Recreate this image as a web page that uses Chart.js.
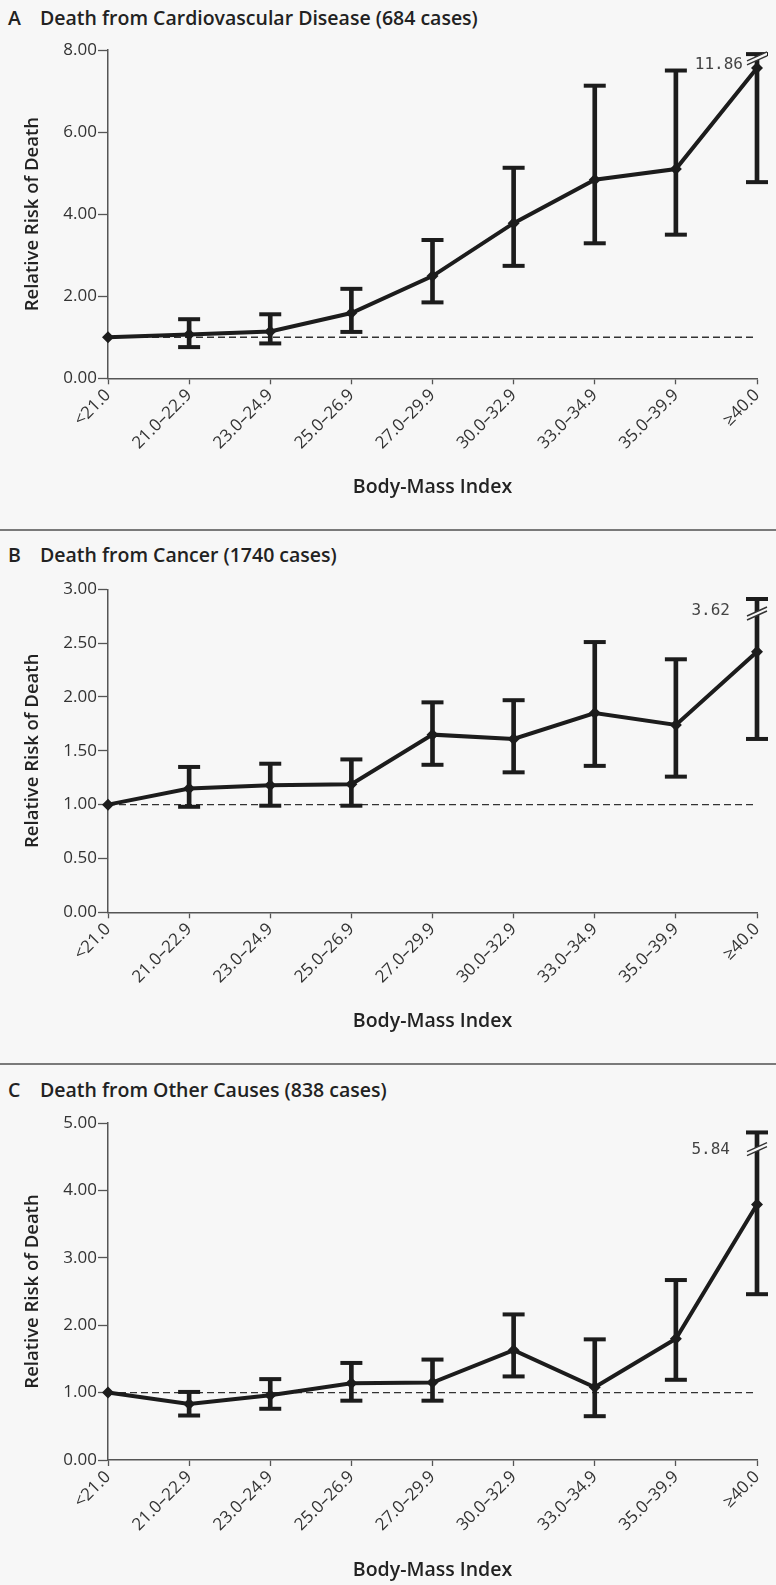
<!DOCTYPE html>
<html>
<head>
<meta charset="utf-8">
<script src="https://cdn.jsdelivr.net/npm/chart.js@4.4.1/dist/chart.umd.min.js"></script>
<style>
  html, body { margin: 0; padding: 0; background: #f7f7f7; }
  body { width: 776px; height: 1585px; position: relative; overflow: hidden; font-family: "Open Sans", sans-serif; }
  .rule { position: absolute; left: 0; width: 776px; height: 2px; background: #7a7a7a; }
  .ptitle { position: absolute; left: 8px; font-weight: 600; font-size: 19.5px; line-height: 22px; color: #222; white-space: nowrap; }
  .ptitle span { display: inline-block; width: 32px; }
  .panel { position: absolute; left: 0; width: 776px; height: 490px; }
</style>
</head>
<body>
<div class="ptitle" style="top:7px"><span>A</span>Death from Cardiovascular Disease (684 cases)</div>
<div class="panel" style="top:30px"><canvas id="chartA" width="776" height="490"></canvas></div>
<div class="rule" style="top:529px"></div>
<div class="ptitle" style="top:544px"><span>B</span>Death from Cancer (1740 cases)</div>
<div class="panel" style="top:565px"><canvas id="chartB" width="776" height="490"></canvas></div>
<div class="rule" style="top:1063px"></div>
<div class="ptitle" style="top:1079px"><span>C</span>Death from Other Causes (838 cases)</div>
<div class="panel" style="top:1095px"><canvas id="chartC" width="776" height="490"></canvas></div>

<script>
'use strict';

// ── Data ──────────────────────────────────────────────────────────────────────
const bmiLabels = ['<21.0', '21.0–22.9', '23.0–24.9', '25.0–26.9', '27.0–29.9',
                   '30.0–32.9', '33.0–34.9', '35.0–39.9', '≥40.0'];
const refLine   = [1, 1, 1, 1, 1, 1, 1, 1, 1];

// A: cardiovascular disease
const cvdRisk  = [1.00, 1.07, 1.14, 1.59, 2.49, 3.78, 4.84, 5.10, 7.56];
const cvdLower = [null, 0.76, 0.85, 1.13, 1.85, 2.74, 3.29, 3.50, 4.78];
const cvdUpper = [null, 1.44, 1.56, 2.18, 3.37, 5.13, 7.13, 7.50, 7.90];
const cvdTicks = [0, 2, 4, 6, 8];

// B: cancer
const cancerRisk  = [1.00, 1.15, 1.18, 1.19, 1.65, 1.61, 1.85, 1.74, 2.42];
const cancerLower = [null, 0.98, 0.99, 0.99, 1.37, 1.30, 1.36, 1.26, 1.61];
const cancerUpper = [null, 1.35, 1.38, 1.42, 1.95, 1.97, 2.51, 2.35, 2.91];
const cancerTicks = [0, 0.5, 1, 1.5, 2, 2.5, 3];

// C: other causes
const otherRisk  = [1.00, 0.83, 0.96, 1.14, 1.15, 1.63, 1.08, 1.80, 3.79];
const otherLower = [null, 0.66, 0.76, 0.88, 0.88, 1.24, 0.65, 1.19, 2.46];
const otherUpper = [null, 1.01, 1.20, 1.44, 1.49, 2.16, 1.79, 2.67, 4.86];
const otherTicks = [0, 1, 2, 3, 4, 5];

// truncated upper limits of the last group (value where the break is drawn, true value)
const breakValues = [7.81, 2.78, 4.62];
const breakLabels = ['11.86', '3.62', '5.84'];

// ── Style ─────────────────────────────────────────────────────────────────────
const INK = '#1c1c1c';
const BG = '#f7f7f7';
const FONT = '"Open Sans"';

// ── Axis break plugin (// marks + real upper limit) ──────────────────────────
const breakPlugin = {
  id: 'axisBreak',
  afterDatasetsDraw(chart, args, opts) {
    if (opts.value == null) return;
    const ctx = chart.ctx;
    const x = chart.scales.x.getPixelForValue(chart.data.labels.length - 1);
    const y = chart.scales.y.getPixelForValue(opts.value);
    ctx.save();
    ctx.fillStyle = BG;
    ctx.beginPath();
    ctx.moveTo(x - 10, y + 3);
    ctx.lineTo(x + 10, y - 6);
    ctx.lineTo(x + 10, y - 2);
    ctx.lineTo(x - 10, y + 7);
    ctx.closePath();
    ctx.fill();
    ctx.strokeStyle = '#333';
    ctx.lineWidth = 1.4;
    ctx.beginPath();
    ctx.moveTo(x - 10, y + 3); ctx.lineTo(x + 10, y - 6);
    ctx.moveTo(x - 10, y + 7); ctx.lineTo(x + 10, y - 2);
    ctx.stroke();
    ctx.font = '16px "DejaVu Sans Mono"';
    ctx.fillStyle = '#444';
    ctx.textAlign = 'right';
    ctx.textBaseline = 'middle';
    ctx.fillText(opts.label, x - opts.gap, y + opts.dy);
    ctx.restore();
  }
};

// ── Build one panel ───────────────────────────────────────────────────────────
function makePanel(id, risk, lower, upper, ticks, brk, layout) {
  const H = 490;
  const axisBottom = layout.xTitleY - layout.top + 11.7;
  const xAxisHeight = axisBottom - (layout.plotBottom - layout.top);

  return new Chart(document.getElementById(id), {
    type: 'line',
    data: {
      labels: bmiLabels,
      datasets: [
        {
          data: risk, borderColor: INK, borderWidth: 4, tension: 0,
          pointStyle: 'rectRot', pointRadius: 6, pointBackgroundColor: INK,
          pointBorderWidth: 0, clip: false, order: 1,
        },
        {
          type: 'bar', data: lower.map((lo, i) => lo == null ? null : [lo, upper[i]]),
          backgroundColor: INK, barThickness: 4, grouped: false, clip: false, order: 2,
        },
        {
          data: upper, showLine: false, pointStyle: 'line', pointRadius: 11,
          pointBorderWidth: 4, pointBorderColor: INK, clip: false, order: 2,
        },
        {
          data: lower, showLine: false, pointStyle: 'line', pointRadius: 11,
          pointBorderWidth: 4, pointBorderColor: INK, clip: false, order: 2,
        },
        {
          data: refLine, borderColor: '#333', borderWidth: 1.3, borderDash: [7, 4],
          pointRadius: 0, clip: false, order: 5,
        },
      ],
    },
    options: {
      responsive: false,
      animation: false,
      events: [],
      layout: {
        padding: { left: 0, right: 776 - 757, top: layout.plotTop - layout.top, bottom: H - axisBottom },
      },
      plugins: {
        legend: { display: false },
        tooltip: { enabled: false },
        axisBreak: brk,
      },
      scales: {
        x: {
          offset: false,
          afterFit: s => { s.height = xAxisHeight; },
          border: { color: '#555', width: 1.5 },
          grid: { offset: false, drawOnChartArea: false, tickLength: 6, tickColor: '#555', tickWidth: 1.3 },
          ticks: { color: '#333', font: { family: FONT, size: 17 }, minRotation: 45, maxRotation: 45, padding: 1, autoSkip: false },
          title: { display: true, text: 'Body-Mass Index', color: '#222', font: { family: FONT, size: 19.5, weight: 600 }, padding: 0 },
        },
        y: {
          min: ticks[0], max: ticks[ticks.length - 1],
          afterBuildTicks: s => { s.ticks = ticks.map(v => ({ value: v })); },
          afterFit: s => { s.width = 108; },
          border: { color: '#555', width: 1.5 },
          grid: { drawOnChartArea: false, tickLength: 10, tickColor: '#555', tickWidth: 1.3 },
          ticks: { color: '#333', font: { family: FONT, size: 17 }, padding: 1, callback: v => Number(v).toFixed(2) },
          title: { display: true, text: 'Relative Risk of Death', color: '#222', font: { family: FONT, size: 18.5, weight: 600 }, padding: { top: 22, bottom: 0 } },
        },
      },
    },
    plugins: [breakPlugin],
  });
}

// ── Panels ────────────────────────────────────────────────────────────────────
makePanel('chartA', cvdRisk, cvdLower, cvdUpper, cvdTicks,
  { value: breakValues[0], label: breakLabels[0], gap: 14, dy: 7 },
  { top: 30, plotTop: 50, plotBottom: 378.3, xTitleY: 487 });

makePanel('chartB', cancerRisk, cancerLower, cancerUpper, cancerTicks,
  { value: breakValues[1], label: breakLabels[1], gap: 27, dy: -2 },
  { top: 565, plotTop: 589.3, plotBottom: 912.3, xTitleY: 1021 });

makePanel('chartC', otherRisk, otherLower, otherUpper, otherTicks,
  { value: breakValues[2], label: breakLabels[2], gap: 27, dy: 1 },
  { top: 1095, plotTop: 1123, plotBottom: 1460, xTitleY: 1570 });
</script>
</body>
</html>
